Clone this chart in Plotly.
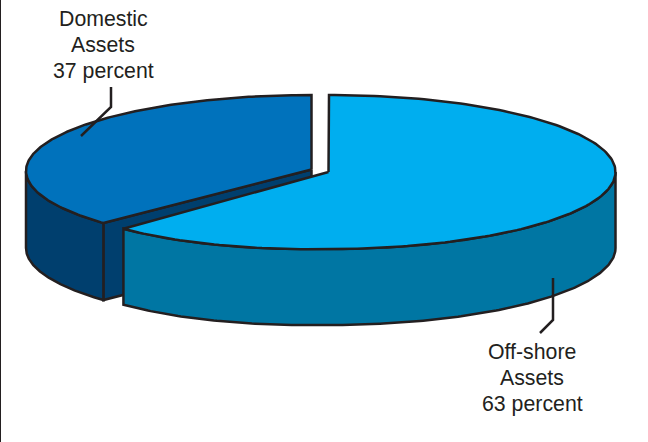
import numpy as np
import plotly.graph_objects as go

# Portfolio split
categories = ["Domestic Assets", "Off-shore Assets"]
shares = [37, 63]
label_lines = [["Domestic", "Assets", "37 percent"], ["Off-shore", "Assets", "63 percent"]]

top_colors = ["#0072BC", "#00AEEF"]
side_colors = ["#003F6E", "#0076A3"]
ink = "#231F20"

WIDTH, HEIGHT = 648, 442

# Rim geometry of each slice; the off-shore rim narrows and sags a little on its left half
domestic = dict(cx=311.5, cy=171, rx=285.5, ry=76, depth=77, apex=(311.5, 169.5), left_rx=285.5, sag=0)
offshore = dict(cx=329, cy=172, rx=286.5, ry=77, depth=76, apex=(328.5, 172), left_rx=282, sag=5.5)

boundary = 360 * shares[1] / sum(shares)


def rim(s, start, stop, drop=0):
    """Points along the elliptical rim; angles run clockwise from 12 o'clock."""
    t = np.radians(np.linspace(start, stop, 200))
    sin, cos = np.sin(t), np.cos(t)
    x = s["cx"] + np.where(sin < 0, s["left_rx"], s["rx"]) * sin
    y = s["cy"] - s["ry"] * cos + np.where(sin < 0, -sin * s["sag"], 0) + drop
    return x, y


def polygon(xs, ys, color):
    return go.Scatter(
        x=xs, y=ys, mode="lines", fill="toself", fillcolor=color,
        line=dict(color=ink, width=2.5), hoverinfo="skip", showlegend=False,
    )


def side_wall(s, start, stop, color):
    xt, yt = rim(s, start, stop)
    xb, yb = rim(s, stop, start, s["depth"])
    return polygon(np.r_[xt, xb, xt[0]], np.r_[yt, yb, yt[0]], color)


def top_face(s, start, stop, color):
    xt, yt = rim(s, start, stop)
    ax, ay = s["apex"]
    return polygon(np.r_[ax, xt, ax], np.r_[ay, yt, ay], color)


fig = go.Figure()

# Domestic slice: cut face, outer wall, top
ex, ey = rim(domestic, boundary, boundary)
ax, ay = domestic["apex"]
d = domestic["depth"]
fig.add_trace(polygon([ax, ax, ex[0], ex[0], ax], [ay, ay + d, ey[0] + d, ey[0], ay], side_colors[0]))
fig.add_trace(side_wall(domestic, boundary, 270, side_colors[0]))
fig.add_trace(top_face(domestic, boundary, 360, top_colors[0]))

# Off-shore slice: outer wall, top
fig.add_trace(side_wall(offshore, 90, boundary, side_colors[1]))
fig.add_trace(top_face(offshore, 0, boundary, top_colors[1]))

# Leader lines from the labels into the slices
leaders = [([111, 111, 81], [87, 107, 136]), ([553, 553, 540], [278, 320, 333])]
for lx, ly in leaders:
    fig.add_trace(go.Scatter(x=lx, y=ly, mode="lines", line=dict(color=ink, width=2.5),
                             hoverinfo="skip", showlegend=False))

# Labels, one annotation per line to hold the tight leading
label_anchor = [(103, 19), (532, 351.5)]
for lines, (lx, ly) in zip(label_lines, label_anchor):
    for i, line in enumerate(lines):
        fig.add_annotation(x=lx, y=ly + 26 * i, text=line, showarrow=False,
                           xanchor="center", yanchor="middle",
                           font=dict(family="Liberation Sans", size=21.3, color=ink))

# Rule down the left edge of the page
fig.add_shape(type="line", x0=0.5, x1=0.5, y0=0, y1=HEIGHT, line=dict(color=ink, width=1))

fig.update_layout(
    width=WIDTH, height=HEIGHT, margin=dict(l=0, r=0, t=0, b=0),
    paper_bgcolor="white", plot_bgcolor="white", showlegend=False,
    xaxis=dict(range=[0, WIDTH], visible=False, fixedrange=True),
    yaxis=dict(range=[HEIGHT, 0], visible=False, fixedrange=True),
)
fig.write_html("out.html", config={"displayModeBar": False})
